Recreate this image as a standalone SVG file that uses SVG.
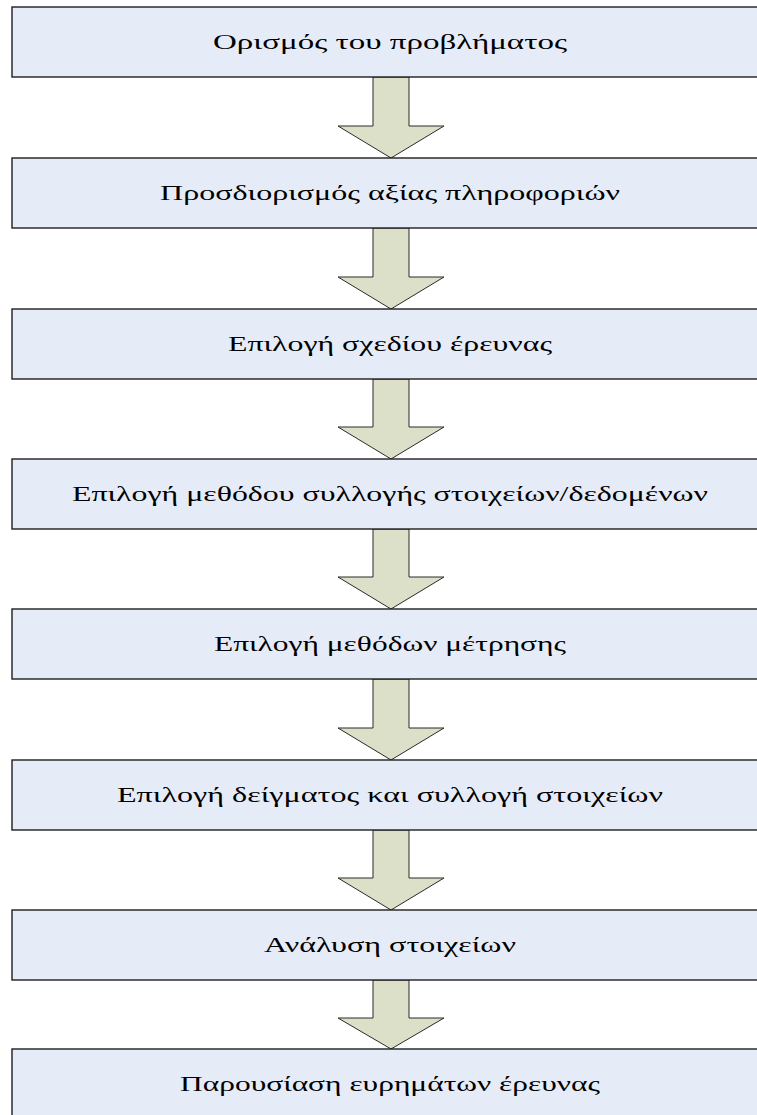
<svg xmlns="http://www.w3.org/2000/svg" width="757" height="1115" viewBox="0 0 757 1115">
<defs>
<style>
.box{fill:#E6ECF7;stroke:#1e1e1e;stroke-width:1.4}
.arr{fill:#DCE0C9;stroke:#2a2a2a;stroke-width:1}
.lbl{font-family:"Liberation Serif","Times New Roman",serif;font-size:22px;fill:#000;text-anchor:middle}
</style>
</defs>
<rect width="757" height="1115" fill="#ffffff"/>
<g id="connectors">
<polygon class="arr" points="373,77 409,77 409,126 444,126 391,158 338,126 373,126"/>
<polygon class="arr" points="373,228 409,228 409,277 444,277 391,309 338,277 373,277"/>
<polygon class="arr" points="373,379 409,379 409,427 444,427 391,459 338,427 373,427"/>
<polygon class="arr" points="373,529 409,529 409,577 444,577 391,609 338,577 373,577"/>
<polygon class="arr" points="373,679 409,679 409,728 444,728 391,760 338,728 373,728"/>
<polygon class="arr" points="373,830 409,830 409,878 444,878 391,910 338,878 373,878"/>
<polygon class="arr" points="373,980 409,980 409,1018 444,1018 391,1049 338,1018 373,1018"/>
</g>
<g id="n1"><rect class="box" x="12" y="7" width="760" height="70"/><text class="lbl" x="390" y="49" textLength="354" lengthAdjust="spacingAndGlyphs">Ορισμός του προβλήματος</text></g>
<g id="n2"><rect class="box" x="12" y="158" width="760" height="70"/><text class="lbl" x="390" y="200" textLength="460" lengthAdjust="spacingAndGlyphs">Προσδιορισμός αξίας πληροφοριών</text></g>
<g id="n3"><rect class="box" x="12" y="309" width="760" height="70"/><text class="lbl" x="390" y="351" textLength="324" lengthAdjust="spacingAndGlyphs">Επιλογή σχεδίου έρευνας</text></g>
<g id="n4"><rect class="box" x="12" y="459" width="760" height="70"/><text class="lbl" x="390" y="501" textLength="636" lengthAdjust="spacingAndGlyphs">Επιλογή μεθόδου συλλογής στοιχείων/δεδομένων</text></g>
<g id="n5"><rect class="box" x="12" y="609" width="760" height="70"/><text class="lbl" x="390" y="651" textLength="352" lengthAdjust="spacingAndGlyphs">Επιλογή μεθόδων μέτρησης</text></g>
<g id="n6"><rect class="box" x="12" y="760" width="760" height="70"/><text class="lbl" x="390" y="802" textLength="546" lengthAdjust="spacingAndGlyphs">Επιλογή δείγματος και συλλογή στοιχείων</text></g>
<g id="n7"><rect class="box" x="12" y="910" width="760" height="70"/><text class="lbl" x="390" y="952" textLength="252" lengthAdjust="spacingAndGlyphs">Ανάλυση στοιχείων</text></g>
<g id="n8"><rect class="box" x="12" y="1049" width="760" height="70"/><text class="lbl" x="390" y="1091" textLength="420" lengthAdjust="spacingAndGlyphs">Παρουσίαση ευρημάτων έρευνας</text></g>
</svg>
